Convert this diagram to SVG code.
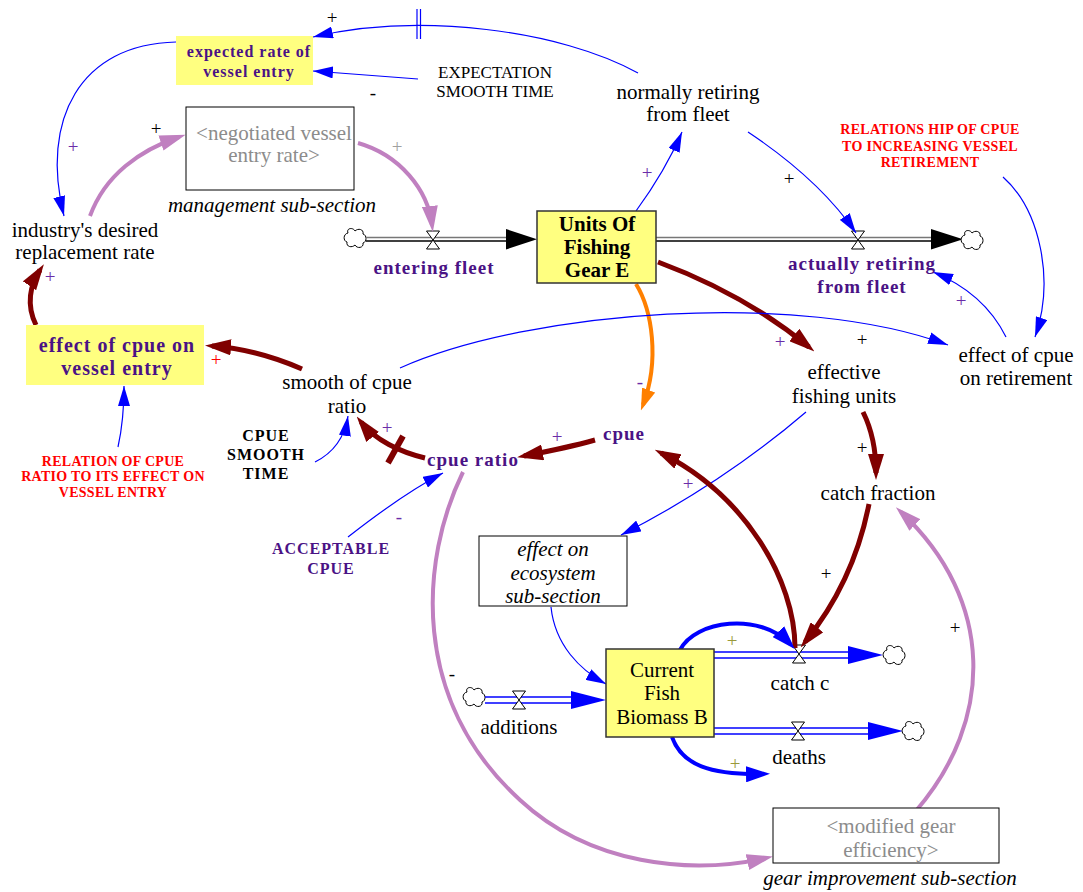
<svg xmlns="http://www.w3.org/2000/svg" width="1083" height="892" viewBox="0 0 1083 892">
  <style>
    text { font-family: Liberation Serif, Tinos, Times New Roman, DejaVu Serif, serif; }
    .reg { font-size: 21px; fill: #000; text-anchor: middle; }
    .ital { font-size: 21px; fill: #000; text-anchor: middle; font-style: italic; }
    .ghost { font-size: 21px; fill: #8c8c8c; text-anchor: middle; }
    .rate { font-size: 19px; font-weight: bold; fill: #4a1285; text-anchor: middle; letter-spacing: 1px; }
    .aux { font-size: 20px; font-weight: bold; fill: #4a1285; text-anchor: middle; letter-spacing: 1px; }
    .small { font-size: 16px; font-weight: bold; fill: #4a1285; text-anchor: middle; letter-spacing: 1px; }
    .const { font-size: 16px; font-weight: bold; fill: #000; text-anchor: middle; letter-spacing: 1px; }
    .cap { font-size: 17px; fill: #000; text-anchor: middle; }
    .lookup { font-size: 14px; font-weight: bold; fill: #ff0000; text-anchor: middle; letter-spacing: 0.3px; }
    .stockTxt { font-size: 21px; font-weight: bold; fill: #000; text-anchor: middle; }
    .pol { font-size: 19px; text-anchor: middle; }
    .pp { fill: #6a2ca8; }
    .pk { fill: #000; }
    .pr { fill: #ff0000; }
    .po { fill: #99993a; }
    .pg { fill: #a0a0a0; }
    .hl { fill: #ffff80; stroke: none; }
    .stock { fill: #ffff80; stroke: #333; stroke-width: 1.5; }
    .box { fill: #fff; stroke: #000; stroke-width: 1; }
    .thin { fill: none; stroke: #0000ff; stroke-width: 1.2; marker-end: url(#aBlue); }
    .red { fill: none; stroke: #800000; stroke-width: 5; marker-end: url(#aRed); }
    .pink { fill: none; stroke: #c080c0; stroke-width: 4; marker-end: url(#aPink); }
    .orange { fill: none; stroke: #ff8000; stroke-width: 4; marker-end: url(#aOrange); }
    .bluet { fill: none; stroke: #0000ff; stroke-width: 4; marker-end: url(#aBlueT); }
    .valve { fill: #fff; stroke: #000; stroke-width: 1; }
    .cloud { fill: #fff; stroke: #000; stroke-width: 1; }
  </style>
  <defs>
    <marker id="aBlue" markerUnits="userSpaceOnUse" markerWidth="20" markerHeight="12" refX="20" refY="6" orient="auto">
      <path d="M0,0 L20,6 L0,12 z" fill="#0000ff"/>
    </marker>
    <marker id="aRed" markerUnits="userSpaceOnUse" markerWidth="26" markerHeight="16" refX="19" refY="8" orient="auto">
      <path d="M0,0 L26,8 L0,16 z" fill="#800000"/>
    </marker>
    <marker id="aPink" markerUnits="userSpaceOnUse" markerWidth="26" markerHeight="16" refX="19" refY="8" orient="auto">
      <path d="M0,0 L26,8 L0,16 z" fill="#c080c0"/>
    </marker>
    <marker id="aOrange" markerUnits="userSpaceOnUse" markerWidth="22" markerHeight="14" refX="16" refY="7" orient="auto">
      <path d="M0,0 L22,7 L0,14 z" fill="#ff8000"/>
    </marker>
    <marker id="aBlueT" markerUnits="userSpaceOnUse" markerWidth="24" markerHeight="16" refX="17" refY="8" orient="auto">
      <path d="M0,0 L24,8 L0,16 z" fill="#0000ff"/>
    </marker>
    <path id="cloud" class="cloud" d="M -7,-5 C -9,-10 -2,-11 0,-7 C 3,-10 9,-9 8,-4 C 12,-3 12,4 8,5 C 9,10 2,11 0,7 C -3,10 -9,9 -8,4 C -12,3 -12,-4 -7,-5 Z"/>
    <path id="valve" class="valve" d="M -6.5,-9 L 6.5,-9 L -6.5,9 L 6.5,9 Z"/>
  </defs>

  <rect width="1083" height="892" fill="#fff"/>

  <!-- flow pipes, valves and sources/sinks -->
  <g id="flows">
    <!-- entering fleet -->
    <use href="#cloud" x="355" y="238"/>
    <line x1="366" y1="237.5" x2="510" y2="237.5" stroke="#777" stroke-width="1.5"/>
    <line x1="366" y1="241" x2="510" y2="241" stroke="#000" stroke-width="1.5"/>
    <polygon points="506,229 537,239.3 506,249.5" fill="#000"/>
    <use href="#valve" x="433" y="240"/>
    <!-- actually retiring from fleet -->
    <line x1="656" y1="237.5" x2="935" y2="237.5" stroke="#777" stroke-width="1.5"/>
    <line x1="656" y1="241" x2="935" y2="241" stroke="#000" stroke-width="1.5"/>
    <polygon points="931,229 963,239.3 931,249.5" fill="#000"/>
    <use href="#cloud" x="972" y="240"/>
    <use href="#valve" x="858" y="240"/>
    <!-- additions -->
    <use href="#cloud" x="474" y="697"/>
    <line x1="485" y1="697" x2="575" y2="697" stroke="#0000ff" stroke-width="1.5"/>
    <line x1="485" y1="703" x2="575" y2="703" stroke="#0000ff" stroke-width="1.5"/>
    <polygon points="571,691 606,700 571,709" fill="#0000ff"/>
    <use href="#valve" x="519" y="700"/>
    <!-- catch c -->
    <line x1="714" y1="652" x2="852" y2="652" stroke="#0000ff" stroke-width="1.5"/>
    <line x1="714" y1="658" x2="852" y2="658" stroke="#0000ff" stroke-width="1.5"/>
    <polygon points="848,646 883,655 848,664" fill="#0000ff"/>
    <use href="#cloud" x="894" y="655"/>
    <use href="#valve" x="799" y="654"/>
    <!-- deaths -->
    <line x1="714" y1="728" x2="872" y2="728" stroke="#0000ff" stroke-width="1.5"/>
    <line x1="714" y1="734" x2="872" y2="734" stroke="#0000ff" stroke-width="1.5"/>
    <polygon points="868,722 903,731 868,740" fill="#0000ff"/>
    <use href="#cloud" x="913" y="731"/>
    <use href="#valve" x="798" y="731"/>
  </g>

  <!-- causal links -->
  <g id="connectors">
    <path class="thin" d="M 638,73 C 560,30 420,12 313,37"/>
    <line x1="417" y1="9" x2="417" y2="39" stroke="#0000ff" stroke-width="1.2"/>
    <line x1="420.5" y1="9" x2="420.5" y2="39" stroke="#0000ff" stroke-width="1.2"/>
    <path class="thin" d="M 418,79 L 313,71"/>
    <path class="thin" d="M 176,42 C 80,44 40,120 64,216"/>
    <path class="pink" d="M 90,216 C 105,175 140,150 179,137"/>
    <path class="pink" d="M 358,143 C 400,155 428,190 432,225"/>
    <path class="red" d="M 36,325 C 26,305 30,285 40,270"/>
    <path class="red" d="M 302,369 C 270,355 240,348 212,346"/>
    <path class="thin" d="M 118,447 C 124,420 124,400 124,386"/>
    <path class="thin" d="M 315,462 C 335,452 345,435 348,416"/>
    <path class="red" d="M 425,458 C 400,452 375,440 361,422"/>
    <line x1="388" y1="463" x2="403" y2="436" stroke="#800000" stroke-width="6"/>
    <path class="red" d="M 595,440 C 570,447 545,452 524,456"/>
    <path class="thin" d="M 348,537 C 380,512 410,490 443,473"/>
    <path class="orange" d="M 636,284 C 652,310 660,360 643,405"/>
    <path class="red" d="M 658,262 C 720,285 770,315 809,347"/>
    <path class="thin" d="M 636,211 C 655,185 670,160 682,132"/>
    <path class="thin" d="M 748,132 C 790,160 830,195 856,233"/>
    <path class="thin" d="M 1003,177 C 1040,210 1055,280 1035,337"/>
    <path class="thin" d="M 1006,337 C 990,305 965,285 933,272"/>
    <path class="thin" d="M 400,368 C 530,310 800,290 948,345"/>
    <path class="red" d="M 863,412 C 872,430 876,450 876,473"/>
    <path class="thin" d="M 806,412 C 750,460 690,500 621,535"/>
    <path class="red" d="M 869,504 C 858,560 835,605 805,642"/>
    <path class="red" d="M 795,648 C 795,580 745,495 661,453"/>
    <path class="pink" d="M 915,812 C 995,720 995,600 901,512"/>
    <path class="pink" d="M 463,472 C 420,560 410,700 520,800 C 590,865 690,875 766,858"/>
    <path class="thin" d="M 551,607 C 555,645 580,670 606,684"/>
    <path class="bluet" d="M 680,650 C 695,620 760,612 790,644"/>
    <path class="bluet" d="M 672,737 C 682,765 710,775 763,774"/>

    <!-- link polarities -->
    <text class="pol pk" x="332" y="24">+</text>
    <text class="pol pk" x="373" y="99">-</text>
    <text class="pol pp" x="73" y="153">+</text>
    <text class="pol pk" x="156" y="135">+</text>
    <text class="pol pg" x="397" y="153">+</text>
    <text class="pol pp" x="50" y="283">+</text>
    <text class="pol pr" x="216" y="366">+</text>
    <text class="pol pp" x="387" y="434">+</text>
    <text class="pol pp" x="557" y="443">+</text>
    <text class="pol pp" x="399" y="523">-</text>
    <text class="pol pp" x="640" y="388">-</text>
    <text class="pol pp" x="780" y="348">+</text>
    <text class="pol pk" x="862" y="346">+</text>
    <text class="pol pp" x="647" y="179">+</text>
    <text class="pol pk" x="789" y="185">+</text>
    <text class="pol pp" x="961" y="307">+</text>
    <text class="pol pk" x="862" y="454">+</text>
    <text class="pol pp" x="688" y="490">+</text>
    <text class="pol pk" x="826" y="580">+</text>
    <text class="pol pk" x="955" y="634">+</text>
    <text class="pol pk" x="452" y="680">-</text>
    <text class="pol po" x="732" y="647">+</text>
    <text class="pol po" x="735" y="770">+</text>
  </g>

  <!-- variables -->
  <g id="expected-rate">
    <rect class="hl" x="176" y="36" width="137" height="49"/>
    <text class="small" x="249" y="57">expected rate of</text>
    <text class="small" x="249" y="77">vessel entry</text>
  </g>
  <g id="expectation-smooth-time">
    <text class="cap" x="495" y="78">EXPECTATION</text>
    <text class="cap" x="495" y="97">SMOOTH TIME</text>
  </g>
  <g id="negotiated-entry">
    <rect class="box" x="186" y="107" width="168" height="83"/>
    <text class="ghost" x="274" y="140">&lt;negotiated vessel</text>
    <text class="ghost" x="274" y="162">entry rate&gt;</text>
    <text class="ital" x="272" y="212">management sub-section</text>
  </g>
  <g id="desired-replacement">
    <text class="reg" x="85" y="237">industry's desired</text>
    <text class="reg" x="85" y="259">replacement rate</text>
  </g>
  <g id="normally-retiring">
    <text class="reg" x="688" y="99">normally retiring</text>
    <text class="reg" x="688" y="121">from fleet</text>
  </g>
  <g id="retirement-lookup">
    <text class="lookup" x="930" y="134">RELATIONS HIP OF CPUE</text>
    <text class="lookup" x="930" y="151">TO INCREASING VESSEL</text>
    <text class="lookup" x="930" y="167">RETIREMENT</text>
  </g>
  <g id="units-of-fishing-gear">
    <rect class="stock" x="537" y="211" width="119" height="72"/>
    <text class="stockTxt" x="597" y="231">Units Of</text>
    <text class="stockTxt" x="597" y="254">Fishing</text>
    <text class="stockTxt" x="597" y="277">Gear E</text>
  </g>
  <g id="entering-fleet">
    <text class="rate" x="434" y="274">entering fleet</text>
  </g>
  <g id="actually-retiring">
    <text class="rate" x="862" y="270">actually retiring</text>
    <text class="rate" x="862" y="293">from fleet</text>
  </g>
  <g id="effect-on-entry">
    <rect class="hl" x="26" y="325" width="178" height="60"/>
    <text class="aux" x="117" y="352">effect of cpue on</text>
    <text class="aux" x="117" y="375">vessel entry</text>
  </g>
  <g id="smooth-cpue-ratio">
    <text class="reg" x="347" y="389">smooth of cpue</text>
    <text class="reg" x="347" y="413">ratio</text>
  </g>
  <g id="effect-on-retirement">
    <text class="reg" x="1016" y="362">effect of cpue</text>
    <text class="reg" x="1016" y="385">on retirement</text>
  </g>
  <g id="effective-units">
    <text class="reg" x="844" y="379">effective</text>
    <text class="reg" x="844" y="403">fishing units</text>
  </g>
  <g id="entry-lookup">
    <text class="lookup" x="113" y="466">RELATION OF CPUE</text>
    <text class="lookup" x="113" y="481">RATIO TO ITS EFFECT ON</text>
    <text class="lookup" x="113" y="497">VESSEL ENTRY</text>
  </g>
  <g id="cpue-smooth-time">
    <text class="const" x="266" y="441">CPUE</text>
    <text class="const" x="266" y="460">SMOOTH</text>
    <text class="const" x="266" y="479">TIME</text>
  </g>
  <g id="cpue-ratio">
    <text class="rate" x="473" y="466">cpue ratio</text>
  </g>
  <g id="cpue">
    <text class="rate" x="624" y="440">cpue</text>
  </g>
  <g id="acceptable-cpue">
    <text class="small" x="331" y="554">ACCEPTABLE</text>
    <text class="small" x="331" y="574">CPUE</text>
  </g>
  <g id="catch-fraction">
    <text class="reg" x="878" y="500">catch fraction</text>
  </g>
  <g id="ecosystem-effect">
    <rect class="box" x="479" y="536" width="148" height="70"/>
    <text class="ital" x="553" y="556">effect on</text>
    <text class="ital" x="553" y="580">ecosystem</text>
    <text class="ital" x="553" y="603">sub-section</text>
  </g>
  <g id="fish-biomass">
    <rect class="stock" x="606" y="649" width="108" height="88"/>
    <text class="reg" x="662" y="677">Current</text>
    <text class="reg" x="662" y="700">Fish</text>
    <text class="reg" x="662" y="724">Biomass B</text>
  </g>
  <g id="catch-c">
    <text class="reg" x="800" y="690">catch c</text>
  </g>
  <g id="deaths">
    <text class="reg" x="799" y="764">deaths</text>
  </g>
  <g id="additions">
    <text class="reg" x="519" y="734">additions</text>
  </g>
  <g id="gear-efficiency">
    <rect class="box" x="773" y="808" width="226" height="55"/>
    <text class="ghost" x="891" y="833">&lt;modified gear</text>
    <text class="ghost" x="891" y="857">efficiency&gt;</text>
    <text class="ital" x="890" y="885">gear improvement sub-section</text>
  </g>
</svg>
